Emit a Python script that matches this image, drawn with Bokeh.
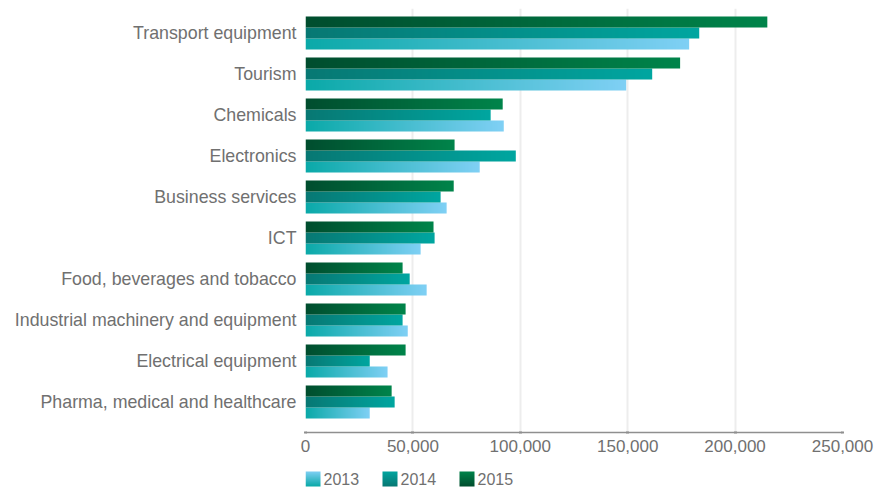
import numpy as np
from bokeh.plotting import figure
from bokeh.layouts import column
from bokeh.models import ColumnDataSource, Range1d, FixedTicker, NumeralTickFormatter
from bokeh.core.properties import value
from bokeh.transform import dodge
from bokeh.embed import file_html
from bokeh.resources import INLINE

categories = [
    "Transport equipment", "Tourism", "Chemicals", "Electronics", "Business services",
    "ICT", "Food, beverages and tobacco", "Industrial machinery and equipment",
    "Electrical equipment", "Pharma, medical and healthcare",
]
years = ["2013", "2014", "2015"]
v2013 = [178600, 149300, 92300, 81100, 65700, 53600, 56400, 47600, 38200, 29900]
v2014 = [183300, 161400, 86200, 97900, 62900, 60100, 48500, 45200, 29900, 41500]
v2015 = [215000, 174400, 91800, 69400, 69000, 59600, 45200, 46600, 46600, 40100]
x_ticks = [0, 50000, 100000, 150000, 200000, 250000]

series = {"2013": v2013, "2014": v2014, "2015": v2015}
grad = {
    "2013": ("#0aa9a8", "#80d0f5"),
    "2014": ("#077873", "#00a6a0"),
    "2015": ("#004d2e", "#00844a"),
}
ROW_PX = 41.0
BAR = 11 / ROW_PX
offsets = {"2013": -BAR, "2014": 0.0, "2015": BAR}
n = len(categories)
FONT = "Liberation Sans"
TXT = "#707070"


def hex2rgb(h):
    h = h.lstrip("#")
    return tuple(int(h[i:i + 2], 16) for i in (0, 2, 4))


def gradient_image(c0, c1, steps, horizontal=True):
    a = np.array(hex2rgb(c0), dtype=float)
    b = np.array(hex2rgb(c1), dtype=float)
    t = (np.arange(steps) + 0.5) / steps
    rgb = np.round(a[None, :] + (b - a)[None, :] * t[:, None]).astype(np.uint32)
    packed = (255 << 24) | (rgb[:, 2] << 16) | (rgb[:, 1] << 8) | rgb[:, 0]
    packed = packed.astype(np.uint32)
    return packed.reshape(1, steps) if horizontal else packed.reshape(steps, 1)


y_end = (n - 1) + 24.5 / ROW_PX
y_start = y_end - 424 / ROW_PX
p = figure(width=886, height=462, output_backend="svg", toolbar_location=None,
           x_range=Range1d(0, 250000), y_range=Range1d(y_start, y_end),
           min_border_left=305, min_border_right=44, min_border_top=8, min_border_bottom=30)
p.outline_line_color = None
p.background_fill_color = "white"

for yr in years:
    vals = series[yr]
    c0, c1 = grad[yr]
    img = gradient_image(c0, c1, 256)
    src = ColumnDataSource(dict(
        image=[img] * n,
        x=[0] * n,
        cy=[n - 1 - i for i in range(n)],
        dw=vals,
        dh=[BAR] * n,
    ))
    p.image_rgba(image="image", x="x", y=dodge("cy", offsets[yr] - BAR / 2),
                 dw="dw", dh="dh", source=src)

# axes
p.xaxis.ticker = FixedTicker(ticks=x_ticks)
p.xaxis.formatter = NumeralTickFormatter(format="0,0")
p.xaxis.axis_line_color = "#8f8f8f"
p.xaxis.axis_line_width = 1.5
p.xaxis.major_tick_line_color = "#8f8f8f"
p.xaxis.major_tick_line_width = 3
p.xaxis.major_tick_in = 1
p.xaxis.major_tick_out = 1
p.xaxis.minor_tick_line_color = None
p.xaxis.major_label_text_font = FONT
p.xaxis.major_label_text_font_size = "17px"
p.xaxis.major_label_text_color = TXT
p.xaxis.major_label_standoff = 6

p.yaxis.ticker = FixedTicker(ticks=list(range(n)))
p.yaxis.major_label_overrides = {n - 1 - i: c for i, c in enumerate(categories)}
p.yaxis.axis_line_color = None
p.yaxis.major_tick_line_color = None
p.yaxis.major_tick_out = 0
p.yaxis.major_tick_in = 0
p.yaxis.minor_tick_line_color = None
p.yaxis.major_label_text_font = FONT
p.yaxis.major_label_text_font_size = "17.8px"
p.yaxis.major_label_text_color = TXT
p.yaxis.major_label_standoff = 9

p.xgrid.grid_line_color = "#ededed"
p.xgrid.grid_line_width = 2
p.ygrid.grid_line_color = None

# legend strip (frame aligned with the chart frame; 1 unit = 1 px)
LG_H = 25
lg = figure(width=886, height=LG_H, output_backend="svg", toolbar_location=None,
            x_range=Range1d(0, 537), y_range=Range1d(0, LG_H),
            min_border_left=305, min_border_right=44, min_border_top=0, min_border_bottom=0)
lg.axis.visible = False
lg.grid.visible = False
lg.outline_line_color = None

SQ = 15
STEP = 77
imgs, ix, tx, tt = [], [], [], []
for j, yr in enumerate(years):
    c0, c1 = grad[yr]
    imgs.append(gradient_image(c0, c1, 30, horizontal=False))
    ix.append(j * STEP)
    tx.append(j * STEP + SQ + 3)
    tt.append(yr)
lg.image_rgba(image=imgs, x=ix, y=[1] * 3, dw=[SQ] * 3, dh=[SQ] * 3)
lg.text(x=tx, y=[1 + SQ / 2] * 3, text=tt, text_font=value(FONT), text_font_size="16px",
        text_color=TXT, text_baseline="middle", text_align="left")

layout = column(p, lg, spacing=0)
open("out.html", "w").write(file_html(layout, INLINE))
